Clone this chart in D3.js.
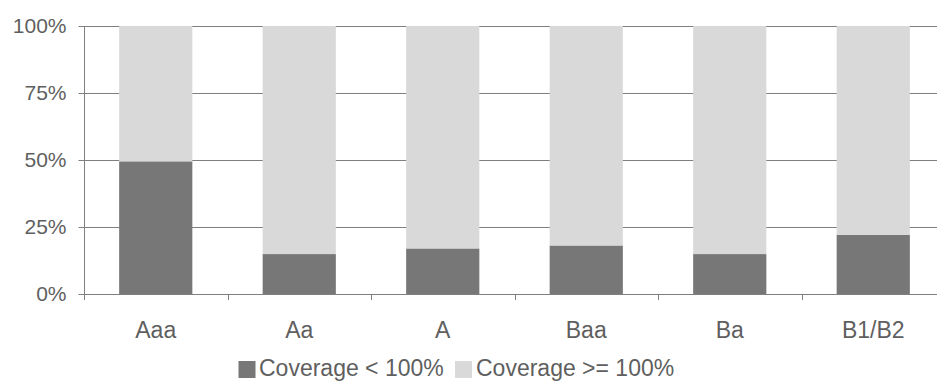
<!DOCTYPE html>
<html>
<head>
<meta charset="utf-8">
<script src="https://cdn.jsdelivr.net/npm/d3@7/dist/d3.min.js"></script>
<style>
  html, body { margin: 0; padding: 0; background: #fff; }
  svg { display: block; }
  text { font-family: "Liberation Sans", Arial, sans-serif; fill: #5f5f5f; }
</style>
</head>
<body>
<svg id="chart" width="937" height="381"></svg>
<script>
// Rating categories and share of issuers by coverage bucket (percent)
const categories = ["Aaa", "Aa", "A", "Baa", "Ba", "B1/B2"];
const coverageBelow = [49.5, 14.9, 17.0, 18.1, 14.9, 22.1];
const coverageAbove = coverageBelow.map(v => 100 - v);
const seriesNames = ["Coverage < 100%", "Coverage >= 100%"];
const seriesColors = ["#777777", "#d9d9d9"];
const yTicks = [0, 25, 50, 75, 100];

const svg = d3.select("#chart");
const plotLeft = 84, plotRight = 945, plotTop = 26, plotBottom = 294;

const x = d3.scaleBand()
  .domain(categories)
  .range([plotLeft, plotRight])
  .paddingInner(0.49)
  .paddingOuter(0.245);

const y = d3.scaleLinear().domain([0, 100]).range([plotBottom, plotTop]);

// horizontal gridlines
svg.append("g")
  .selectAll("line")
  .data(yTicks.filter(t => t > 0))
  .join("line")
  .attr("x1", plotLeft).attr("x2", 937)
  .attr("y1", d => Math.round(y(d)) + 0.5).attr("y2", d => Math.round(y(d)) + 0.5)
  .attr("stroke", "#7f7f7f").attr("stroke-width", 1);

// stacked bars
const rows = categories.map((c, i) => ({ cat: c, below: coverageBelow[i], above: coverageAbove[i] }));
const stack = d3.stack().keys(["below", "above"])(rows);

svg.append("g")
  .selectAll("g")
  .data(stack)
  .join("g")
  .attr("fill", (d, i) => seriesColors[i])
  .selectAll("rect")
  .data(d => d)
  .join("rect")
  .attr("x", d => x(d.data.cat))
  .attr("width", x.bandwidth())
  .attr("y", d => y(d[1]))
  .attr("height", d => y(d[0]) - y(d[1]));

// y axis
const yAxis = d3.axisLeft(y)
  .tickValues(yTicks)
  .tickFormat(d => d + "%")
  .tickSize(6)
  .tickPadding(12);
const gy = svg.append("g").attr("transform", `translate(${plotLeft + 0.5},0)`).call(yAxis);
gy.select(".domain").attr("stroke", "#7f7f7f").attr("d", `M0,${plotTop}V${plotBottom + 6}`);
gy.selectAll(".tick line").attr("stroke", "#7f7f7f");
gy.selectAll(".tick text")
  .style("font-size", "21px")
  .style("font-family", "'Liberation Sans', Arial, sans-serif")
  .attr("fill", "#5f5f5f");

// x axis baseline and category separators
const step = x.step();
const gap = step - x.bandwidth();
const boundaries = categories.map(c => x(c) - gap / 2)
  .concat([x(categories[categories.length - 1]) + x.bandwidth() + gap / 2]);
svg.append("line")
  .attr("x1", plotLeft).attr("x2", 937)
  .attr("y1", plotBottom + 0.5).attr("y2", plotBottom + 0.5)
  .attr("stroke", "#7f7f7f");
svg.append("g")
  .selectAll("line")
  .data(boundaries)
  .join("line")
  .attr("x1", d => Math.round(d) + 0.5).attr("x2", d => Math.round(d) + 0.5)
  .attr("y1", plotBottom).attr("y2", plotBottom + 6)
  .attr("stroke", "#7f7f7f");

// category labels
svg.append("g")
  .selectAll("text")
  .data(categories)
  .join("text")
  .attr("x", d => x(d) + x.bandwidth() / 2)
  .attr("y", 338)
  .attr("text-anchor", "middle")
  .style("font-size", "23px")
  .text(d => d);

// legend
const legendItems = [
  { name: seriesNames[0], color: seriesColors[0], x: 238.5, tx: 259 },
  { name: seriesNames[1], color: seriesColors[1], x: 455, tx: 476 }
];
const lg = svg.append("g");
lg.selectAll("rect")
  .data(legendItems)
  .join("rect")
  .attr("x", d => d.x).attr("y", 361)
  .attr("width", 17).attr("height", 17)
  .attr("fill", d => d.color);
lg.selectAll("text")
  .data(legendItems)
  .join("text")
  .attr("x", d => d.tx)
  .attr("y", 376)
  .style("font-size", "23px")
  .text(d => d.name);
</script>
</body>
</html>
